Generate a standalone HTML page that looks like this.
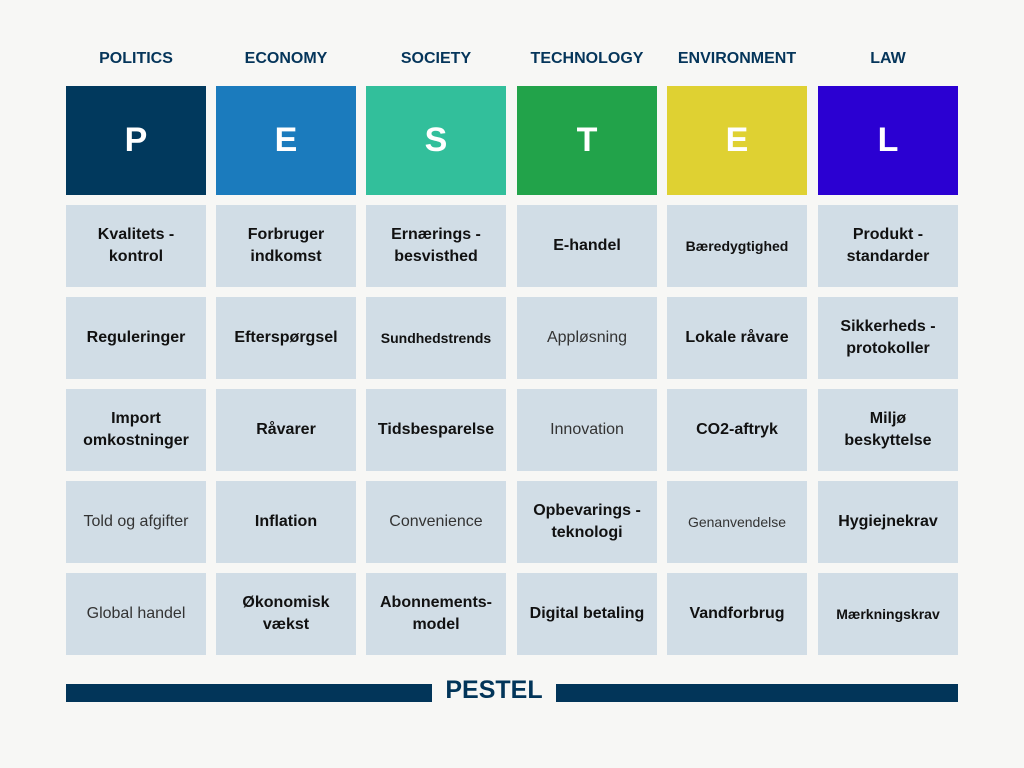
<!DOCTYPE html>
<html><head><meta charset="utf-8"><style>
body{margin:0;width:1024px;height:768px;background:#f7f7f5;font-family:"Liberation Sans",sans-serif;position:relative;overflow:hidden}
.h{position:absolute;top:50px;width:140px;text-align:center;font-weight:bold;font-size:16px;color:#05355a}
.b{position:absolute;top:86px;width:140px;height:109px;display:flex;align-items:center;justify-content:center;color:#fff;font-size:34px;font-weight:bold}
.c{position:absolute;width:140px;height:82px;background:#d1dde6;display:flex;align-items:center;justify-content:center;text-align:center;font-size:16px;line-height:22px;color:#111;font-weight:bold}
.r{font-weight:normal;color:#333}
.s{font-size:14px}
.bar{position:absolute;top:684px;height:18px;background:#023559}
</style></head><body>
<div id="root"></div>
<div class="bar" style="left:66px;width:366px"></div>
<div style="position:absolute;left:432px;width:124px;top:676px;text-align:center;font-size:25px;font-weight:bold;color:#023559">PESTEL</div>
<div class="bar" style="left:556px;width:402px"></div>
<script>
const heads=["POLITICS","ECONOMY","SOCIETY","TECHNOLOGY","ENVIRONMENT","LAW"];
const letters=["P","E","S","T","E","L"];
const colors=["#01395d","#1b7bbd","#32bf9b","#22a34a","#dfd132","#2b00d2"];
const xs=[66,216,366,517,667,818];
const cells=[
["Kvalitets -<br>kontrol","Reguleringer","Import<br>omkostninger","r:Told og afgifter","r:Global handel"],
["Forbruger<br>indkomst","Efterspørgsel","Råvarer","Inflation","Økonomisk<br>vækst"],
["Ernærings -<br>besvisthed","s:Sundhedstrends","Tidsbesparelse","r:Convenience","Abonnements-<br>model"],
["E-handel","r:Appløsning","r:Innovation","Opbevarings -<br>teknologi","Digital betaling"],
["s:Bæredygtighed","Lokale råvare","CO2-aftryk","rs:Genanvendelse","Vandforbrug"],
["Produkt -<br>standarder","Sikkerheds -<br>protokoller","Miljø<br>beskyttelse","Hygiejnekrav","s:Mærkningskrav"]];
const root=document.getElementById('root');
heads.forEach((h,i)=>{
 const d=document.createElement('div');d.className='h';d.style.left=xs[i]+'px';d.textContent=h;
 
 
 root.appendChild(d);
 const b=document.createElement('div');b.className='b';b.style.left=xs[i]+'px';b.style.background=colors[i];b.textContent=letters[i];
 
 
 root.appendChild(b);
 cells[i].forEach((t,j)=>{
  const c=document.createElement('div');c.className='c';
  let m=t.match(/^(r|s|rs):(.*)$/);
  if(m){if(m[1].includes('r'))c.classList.add('r');if(m[1].includes('s'))c.classList.add('s');t=m[2];}
  c.innerHTML=t;c.style.left=xs[i]+'px';c.style.top=(205+j*92)+'px';
  
  
  root.appendChild(c);
 });
});
</script>
</body></html>
